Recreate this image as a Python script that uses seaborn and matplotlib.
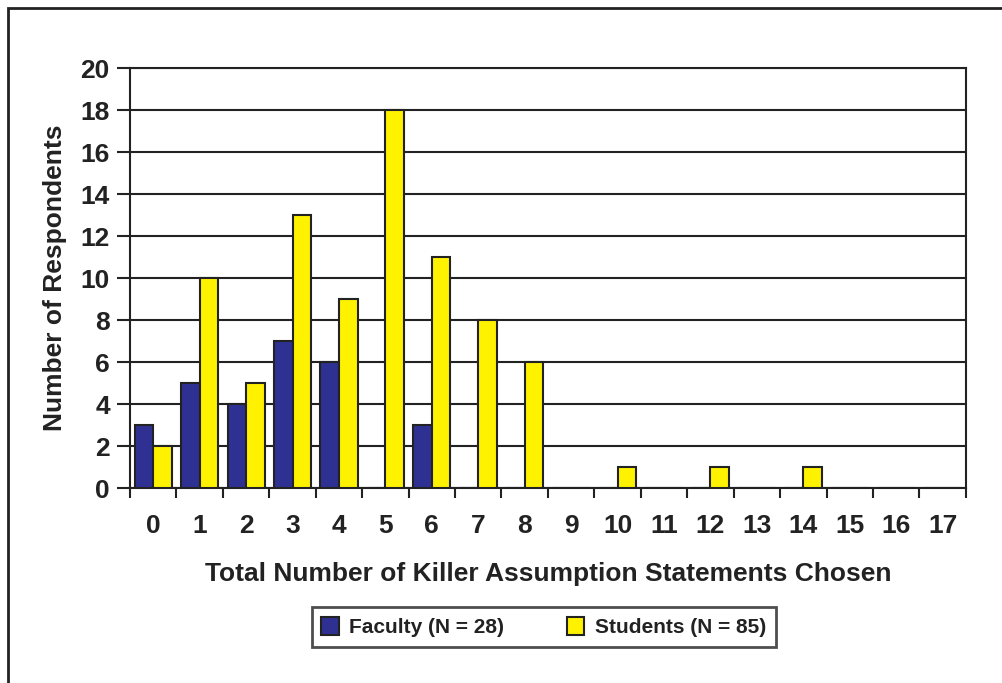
import pandas as pd
import matplotlib.pyplot as plt
import matplotlib.patches as mpatches
import seaborn as sns

# data
categories = [str(i) for i in range(18)]
faculty = [3, 5, 4, 7, 6, 0, 3, 0, 0, 0, 0, 0, 0, 0, 0, 0, 0, 0]
students = [2, 10, 5, 13, 9, 18, 11, 8, 6, 0, 1, 0, 1, 0, 1, 0, 0, 0]
groups = ['Faculty (N = 28)', 'Students (N = 85)']
colors = ['#2E3192', '#FFF200']

df = pd.DataFrame({
    'chosen': categories * 2,
    'count': faculty + students,
    'group': [groups[0]] * len(categories) + [groups[1]] * len(categories),
})

sns.set_theme(style='white')
plt.rcParams['font.family'] = ['Liberation Sans', 'DejaVu Sans']
plt.rcParams['font.weight'] = 'bold'
ink = '#222222'

fig = plt.figure(figsize=(10.03, 6.83), dpi=100)
ax = fig.add_axes([0.1296, 0.2855, 0.8334, 0.6149])

sns.barplot(data=df, x='chosen', y='count', hue='group', order=categories,
            hue_order=groups, palette=colors, saturation=1, width=0.8, gap=0,
            edgecolor=ink, linewidth=1.5, ax=ax, zorder=3)

ax.set_ylim(0, 20)
ax.set_xlim(-0.5, 17.5)
ax.set_yticks(range(0, 21, 2))
ax.yaxis.grid(True, color=ink, linewidth=1.5, zorder=0)
ax.set_axisbelow(True)
for s in ax.spines.values():
    s.set_color(ink)
    s.set_linewidth(1.5)

ax.tick_params(axis='y', which='major', direction='out', length=9.5, width=1.5,
               color=ink, labelsize=19, pad=5, left=True)
ax.tick_params(axis='x', which='major', length=0, labelsize=19, pad=19)
ax.set_xticks([i - 0.5 for i in range(19)], minor=True)
ax.tick_params(axis='x', which='minor', direction='out', length=7.5, width=1.5,
               color=ink, bottom=True)
for t in ax.get_xticklabels() + ax.get_yticklabels():
    t.set_fontweight('bold')
    t.set_color(ink)

ax.set_xlabel('Total Number of Killer Assumption Statements Chosen',
              fontsize=19, fontweight='bold', color=ink, labelpad=17)
ax.set_ylabel('Number of Respondents', fontsize=19, fontweight='bold',
              color=ink, labelpad=10)

ax.get_legend().remove()
handles = [mpatches.Patch(facecolor=c, edgecolor=ink, linewidth=1.5) for c in colors]
leg = fig.legend(handles, groups, loc='center', bbox_to_anchor=(0.542, 0.082),
                 ncol=2, frameon=True, fancybox=False, edgecolor=ink,
                 prop={'weight': 'bold', 'size': 15}, columnspacing=3.0,
                 handlelength=0.85, handleheight=1.0, handletextpad=0.5,
                 borderpad=0.45)
leg.get_frame().set_linewidth(2)
for t in leg.get_texts():
    t.set_color(ink)

# outer frame
fig.patches.append(mpatches.Rectangle((8 / 1003, -0.1), 1.2, 0.1 + 1 - 8 / 683,
                                      transform=fig.transFigure, fill=False,
                                      edgecolor=ink, linewidth=2))

fig.savefig('out.png', dpi=100)
